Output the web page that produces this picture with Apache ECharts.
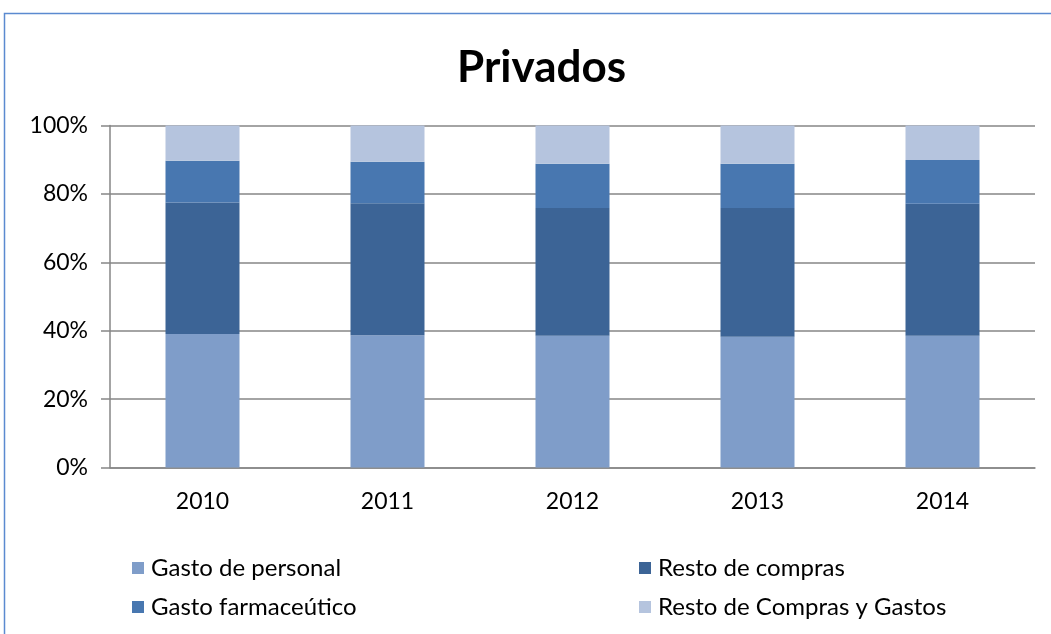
<!DOCTYPE html>
<html>
<head>
<meta charset="utf-8">
<script src="https://cdn.jsdelivr.net/npm/echarts@6/dist/echarts.min.js"></script>
<style>
  html, body { margin: 0; padding: 0; background: #fff; }
  #main { width: 1051px; height: 634px; }
</style>
</head>
<body>
<div id="main"></div>
<script>
// datos (porcentaje de cada concepto)
const years = ['2010', '2011', '2012', '2013', '2014'];
const gastoPersonal = [39.0, 38.7, 38.5, 38.2, 38.5];
const restoCompras = [38.5, 38.6, 37.4, 37.7, 38.6];
const gastoFarma = [12.2, 12.1, 12.9, 12.9, 12.8];
const restoComprasGastos = [10.3, 10.6, 11.2, 11.2, 10.1];

const font = 'Lato, "Open Sans", sans-serif';
const chart = echarts.init(document.getElementById('main'));

function barSeries(name, data, color) {
  return {
    name: name,
    type: 'bar',
    stack: 'total',
    barWidth: 74,
    data: data,
    itemStyle: { color: color },
    emphasis: { disabled: true }
  };
}

const legendBase = {
  orient: 'vertical',
  top: 551,
  itemWidth: 12,
  itemHeight: 12,
  itemGap: 15,
  icon: 'rect',
  textStyle: { fontFamily: font, fontSize: 24, color: '#000', padding: [0, 0, 0, 2] }
};

chart.setOption({
  animation: false,
  backgroundColor: '#fff',
  title: {
    text: 'Privados',
    left: 452,
    top: 41,
    textStyle: { fontFamily: font, fontSize: 44, fontWeight: 'bold', color: '#000' }
  },
  graphic: [{
    type: 'rect',
    shape: { x: 4.5, y: 13.5, width: 1200, height: 800 },
    style: { fill: 'none', stroke: '#5b8ad0', lineWidth: 1.5 },
    silent: true
  }],
  legend: [
    Object.assign({}, legendBase, { left: 127, data: ['Gasto de personal', 'Gasto farmaceútico'] }),
    Object.assign({}, legendBase, { left: 634, data: ['Resto de compras', 'Resto de Compras y Gastos'] })
  ],
  grid: { left: 110, right: 16, top: 125.5, bottom: 166.5 },
  xAxis: {
    type: 'category',
    data: years,
    axisLine: { lineStyle: { color: '#868686', width: 1.5 } },
    axisTick: { length: 8, lineStyle: { color: '#868686', width: 1.5 } },
    axisLabel: { fontFamily: font, fontSize: 23, color: '#000', margin: 23 }
  },
  yAxis: {
    type: 'value',
    min: 0,
    max: 100,
    interval: 20,
    axisLine: { show: true, lineStyle: { color: '#868686', width: 1.5 } },
    axisTick: { show: true, length: 9, lineStyle: { color: '#868686', width: 1.5 } },
    axisLabel: { fontFamily: font, fontSize: 23, color: '#000', margin: 22, formatter: '{value}%' },
    splitLine: { lineStyle: { color: '#868686', width: 1.5 } }
  },
  series: [
    barSeries('Gasto de personal', gastoPersonal, '#7f9dc9'),
    barSeries('Resto de compras', restoCompras, '#3c6496'),
    barSeries('Gasto farmaceútico', gastoFarma, '#4877b0'),
    barSeries('Resto de Compras y Gastos', restoComprasGastos, '#b5c4de')
  ]
});
</script>
</body>
</html>
